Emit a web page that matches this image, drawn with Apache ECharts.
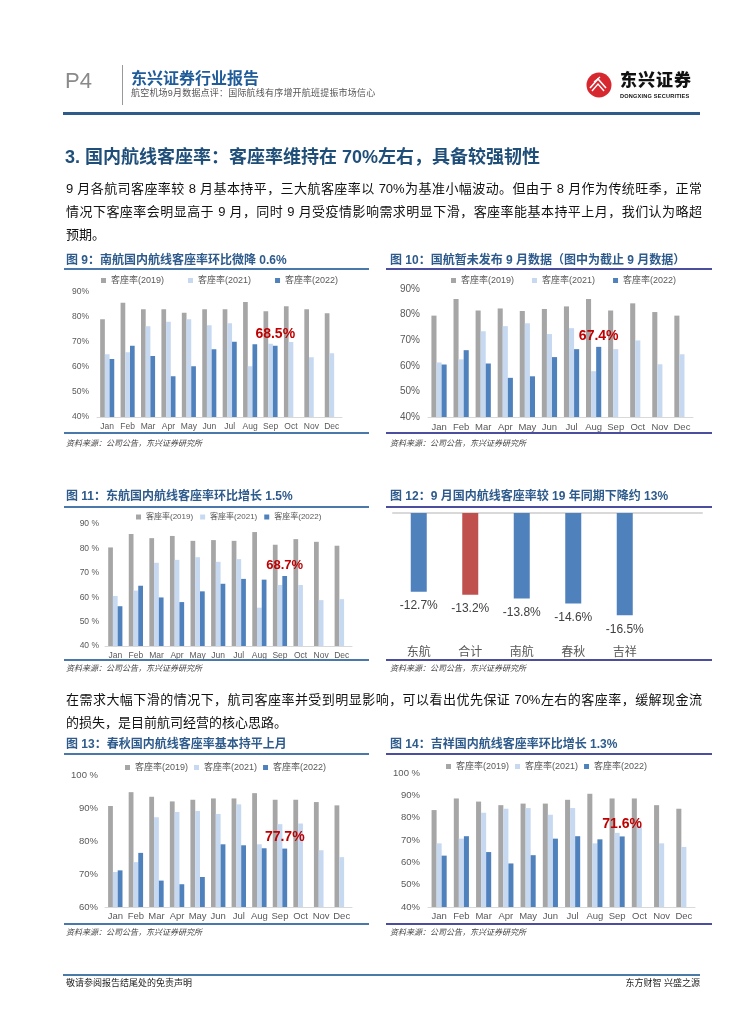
<!DOCTYPE html>
<html><head><meta charset="utf-8">
<script src="https://cdn.jsdelivr.net/npm/echarts@6/dist/echarts.min.js"></script>
<style>
html,body{margin:0;padding:0;background:#fff;}
body{width:755px;height:1024px;position:relative;overflow:hidden;font-family:'Liberation Sans','Noto Sans CJK SC',sans-serif;}
.t{position:absolute;white-space:nowrap;}
.ln{position:absolute;}
.para{position:absolute;left:66px;width:636px;font-size:13px;line-height:23px;color:#111;}
.para div{text-align:justify;text-align-last:justify;white-space:nowrap;}
.para div.last{text-align-last:left;}
.ft{position:absolute;font-size:12px;font-weight:bold;color:#2e5b8c;line-height:14px;white-space:nowrap;}
.src{position:absolute;font-size:8px;font-style:italic;color:#444;line-height:10px;white-space:nowrap;}
#chart{position:absolute;left:0;top:0;width:755px;height:1024px;}
</style></head>
<body>
<div id="chart"></div>

<!-- header -->
<div class="t" style="left:65px;top:69px;font-size:22px;line-height:24px;color:#8a8a8a;">P4</div>
<div class="ln" style="left:122px;top:65px;width:1px;height:40px;background:#999;"></div>
<div class="t" style="left:131px;top:70px;font-size:16px;line-height:17px;font-weight:bold;color:#1f5c99;">东兴证券行业报告</div>
<div class="t" style="left:131px;top:88px;font-size:9px;line-height:10px;color:#555;letter-spacing:0.2px;">航空机场9月数据点评：国际航线有序增开航班提振市场信心</div>
<svg style="position:absolute;left:586px;top:71px" width="26" height="28" viewBox="0 0 26 28">
<circle cx="13" cy="14" r="12.5" fill="#d7282f"/>
<path d="M4 17 L12 8 L20 17" stroke="#fff" stroke-width="1.6" fill="none"/>
<path d="M6 20 L12 13 L18 20" stroke="#fff" stroke-width="1.4" fill="none"/>
<path d="M8 11 L14 6" stroke="#fff" stroke-width="1.2"/>
</svg>
<div class="t" style="left:620px;top:71px;font-size:17px;line-height:19px;font-weight:900;color:#111;letter-spacing:1px;">东兴证券</div>
<div class="t" style="left:620px;top:93px;font-size:5.6px;line-height:7px;font-weight:bold;color:#111;letter-spacing:0.2px;">DONGXING SECURITIES</div>
<div class="ln" style="left:63px;top:112px;width:637px;height:3px;background:#2f5b8a;"></div>

<!-- heading -->
<div class="t" style="left:65px;top:146px;font-size:18px;line-height:22px;font-weight:bold;color:#1f4e79;">3. 国内航线客座率：客座率维持在 70%左右，具备较强韧性</div>

<div class="para" style="top:177px;">
<div>9 月各航司客座率较 8 月基本持平，三大航客座率以 70%为基准小幅波动。但由于 8 月作为传统旺季，正常</div>
<div>情况下客座率会明显高于 9 月，同时 9 月受疫情影响需求明显下滑，客座率能基本持平上月，我们认为略超</div>
<div class="last">预期。</div>
</div>

<!-- row 1 titles -->
<div class="ft" style="left:66px;top:253px;">图 9：南航国内航线客座率环比微降 0.6%</div>
<div class="ln" style="left:64px;top:268px;width:305px;height:2px;background:#4a78aa;"></div>
<div class="ft" style="left:390px;top:253px;">图 10：国航暂未发布 9 月数据（图中为截止 9 月数据）</div>
<div class="ln" style="left:386px;top:268px;width:326px;height:2px;background:#4b4d9e;"></div>
<div class="ln" style="left:64px;top:432px;width:305px;height:2px;background:#4a78aa;"></div>
<div class="ln" style="left:386px;top:432px;width:326px;height:2px;background:#4b4d9e;"></div>
<div class="src" style="left:66px;top:439px;">资料来源：公司公告，东兴证券研究所</div>
<div class="src" style="left:390px;top:439px;">资料来源：公司公告，东兴证券研究所</div>

<!-- row 2 titles -->
<div class="ft" style="left:66px;top:489px;">图 11：东航国内航线客座率环比增长 1.5%</div>
<div class="ln" style="left:64px;top:506px;width:305px;height:2px;background:#4a78aa;"></div>
<div class="ft" style="left:390px;top:489px;">图 12：9 月国内航线客座率较 19 年同期下降约 13%</div>
<div class="ln" style="left:386px;top:506px;width:326px;height:2px;background:#4b4d9e;"></div>
<div class="ln" style="left:64px;top:659px;width:305px;height:2px;background:#4a78aa;"></div>
<div class="ln" style="left:386px;top:659px;width:326px;height:2px;background:#4b4d9e;"></div>
<div class="src" style="left:66px;top:664px;">资料来源：公司公告，东兴证券研究所</div>
<div class="src" style="left:390px;top:664px;">资料来源：公司公告，东兴证券研究所</div>

<div class="para" style="top:688px;">
<div>在需求大幅下滑的情况下，航司客座率并受到明显影响，可以看出优先保证 70%左右的客座率，缓解现金流</div>
<div class="last">的损失，是目前航司经营的核心思路。</div>
</div>

<!-- row 3 titles -->
<div class="ft" style="left:66px;top:737px;">图 13：春秋国内航线客座率基本持平上月</div>
<div class="ln" style="left:64px;top:753px;width:305px;height:2px;background:#4a78aa;"></div>
<div class="ft" style="left:390px;top:737px;">图 14：吉祥国内航线客座率环比增长 1.3%</div>
<div class="ln" style="left:386px;top:753px;width:326px;height:2px;background:#4b4d9e;"></div>
<div class="ln" style="left:64px;top:923px;width:305px;height:2px;background:#4a78aa;"></div>
<div class="ln" style="left:386px;top:923px;width:326px;height:2px;background:#4b4d9e;"></div>
<div class="src" style="left:66px;top:928px;">资料来源：公司公告，东兴证券研究所</div>
<div class="src" style="left:390px;top:928px;">资料来源：公司公告，东兴证券研究所</div>

<!-- footer -->
<div class="ln" style="left:63px;top:974px;width:637px;height:2px;background:#4a7aa8;"></div>
<div class="t" style="left:66px;top:978px;font-size:9px;line-height:11px;color:#222;">敬请参阅报告结尾处的免责声明</div>
<div class="t" style="right:55px;top:978px;font-size:9px;line-height:11px;color:#222;">东方财智 兴盛之源</div>

<script>
// ---------- data ----------
const months = ['Jan','Feb','Mar','Apr','May','Jun','Jul','Aug','Sep','Oct','Nov','Dec'];
const seriesNames = ['客座率(2019)','客座率(2021)','客座率(2022)'];
// 图9 南航
const nh2019 = [79.1, 85.7, 83.1, 83.1, 81.7, 83.1, 83.1, 86.0, 82.3, 84.3, 83.1, 81.5];
const nh2021 = [65.1, 65.9, 76.3, 78.1, 79.1, 76.7, 77.5, 60.3, 69.3, 70.0, 63.9, 65.5];
const nh2022 = [63.2, 68.5, 64.4, 56.3, 60.3, 67.1, 70.1, 69.1, 68.5];
// 图10 国航
const gh2019 = [79.6, 86.1, 81.6, 82.4, 81.4, 82.2, 83.2, 86.1, 81.6, 84.4, 81.0, 79.6];
const gh2021 = [61.3, 62.5, 73.5, 75.5, 76.6, 72.4, 74.7, 57.9, 66.5, 69.9, 60.6, 64.5];
const gh2022 = [60.5, 66.1, 60.9, 55.3, 55.9, 63.4, 66.5, 67.4];
// 图11 东航
const dh2019 = [80.4, 85.9, 84.2, 85.1, 83.1, 83.4, 83.1, 86.7, 81.5, 83.8, 82.7, 81.1];
const dh2021 = [60.5, 62.7, 74.1, 75.3, 76.4, 74.5, 75.6, 55.7, 65.0, 65.0, 58.8, 59.2];
const dh2022 = [56.3, 64.7, 59.9, 58.0, 62.4, 65.5, 67.5, 67.2, 68.7];
// 图12 9月较19年同期
const cats12 = ['东航','合计','南航','春秋','吉祥'];
const vals12 = [-12.7, -13.2, -13.8, -14.6, -16.5];
// 图13 春秋
const cq2019 = [90.6, 94.8, 93.4, 92.0, 92.5, 92.9, 92.9, 94.5, 92.5, 92.5, 91.8, 90.8];
const cq2021 = [70.6, 73.6, 87.2, 88.8, 89.1, 88.2, 91.1, 79.0, 85.1, 85.3, 77.2, 75.1];
const cq2022 = [71.1, 76.4, 68.0, 66.9, 69.1, 79.0, 78.7, 77.8, 77.7];
// 图14 吉祥
const jx2019 = [83.4, 88.6, 87.2, 85.6, 86.3, 86.3, 88.0, 90.7, 88.6, 88.6, 85.6, 84.0];
const jx2021 = [68.5, 70.6, 82.2, 84.0, 84.3, 81.3, 84.3, 68.5, 73.2, 76.3, 68.5, 66.9];
const jx2022 = [63.0, 71.7, 64.6, 59.5, 63.2, 70.6, 71.7, 70.3, 71.6];

// ---------- style ----------
const FF = "'Liberation Sans','Noto Sans CJK SC',sans-serif";
const C19 = '#a6a6a6', C21 = '#c6d9f1', C22 = '#4f81bd';
const opt = {animation:false, grid:[], xAxis:[], yAxis:[], series:[], legend:[]};

function addBarChart(gi, d19, d21, d22, hi, c){
  opt.grid.push({left:c.l, top:c.t, width:c.w, height:c.h});
  opt.xAxis.push({type:'category', gridIndex:gi, data:months,
    axisLine:{lineStyle:{color:'#d9d9d9', width:1}}, axisTick:{show:false},
    axisLabel:{fontSize:c.xf, color:'#595959', margin:c.xm, fontFamily:FF, interval:0}});
  opt.yAxis.push({type:'value', gridIndex:gi, min:c.ymin, max:c.ymax, interval:10,
    splitLine:{show:false}, axisLine:{show:false}, axisTick:{show:false},
    axisLabel:{fontSize:c.yf, color:'#595959', margin:c.ym, fontFamily:FF,
      formatter:v => c.yfmt(v)}});
  const common = {type:'bar', xAxisIndex:gi, yAxisIndex:gi, barGap:'0%', barCategoryGap:c.gap, silent:true};
  opt.series.push(Object.assign({}, common, {name:seriesNames[0], data:d19, itemStyle:{color:C19}}));
  opt.series.push(Object.assign({}, common, {name:seriesNames[1], data:d21, itemStyle:{color:C21}}));
  opt.series.push(Object.assign({}, common, {name:seriesNames[2], itemStyle:{color:C22},
    data:d22.map((v,i)=>({value:v, label:{show:i===hi}})),
    label:{position:'top', distance:c.ld, color:'#c00000', fontWeight:'bold', fontSize:c.lf,
      fontFamily:FF, formatter:p=>p.value+'%'}}));
  opt.legend.push({data:seriesNames, left:c.lgl, top:c.lgt, itemWidth:5, itemHeight:5, itemGap:c.lgg,
    icon:'rect', selectedMode:false, padding:0,
    textStyle:{fontSize:c.lgf, color:'#595959', fontFamily:FF}});
}
const pct = v => v + '%';
const pctSp = v => v + ' %';
const pct100 = v => v === 100 ? '100 %' : v + '%';

addBarChart(0, nh2019, nh2021, nh2022, 8, {l:97,t:292,w:245,h:125, ymin:40,ymax:90, yfmt:pct, yf:8.5, ym:8,
  xf:8.5, xm:5, gap:'31%', ld:5, lf:14, lgl:101, lgt:276, lgg:24, lgf:9});
addBarChart(1, gh2019, gh2021, gh2022, 7, {l:428,t:289,w:265,h:128, ymin:40,ymax:90, yfmt:pct, yf:10, ym:8,
  xf:9.5, xm:6, gap:'31%', ld:4, lf:14, lgl:451, lgt:276, lgg:18, lgf:9});
addBarChart(2, dh2019, dh2021, dh2022, 8, {l:105,t:524,w:247,h:122, ymin:40,ymax:90, yfmt:pctSp, yf:8.5, ym:6,
  xf:8.5, xm:5, gap:'31%', ld:4, lf:13, lgl:136, lgt:513, lgg:7, lgf:8});

// 图12
opt.grid.push({left:393, top:513, width:309, height:124});
opt.xAxis.push({type:'category', gridIndex:3, data:cats12.concat(['']), position:'bottom',
  axisLine:{show:false, onZero:false}, axisTick:{show:false},
  axisLabel:{fontSize:12, color:'#595959', margin:10, fontFamily:FF, interval:0}});
opt.yAxis.push({type:'value', gridIndex:3, min:-20, max:0, show:false});
opt.series.push({type:'bar', xAxisIndex:3, yAxisIndex:3, barWidth:16, silent:true,
  data:vals12.map((v,i)=>({value:v, itemStyle:{color: i===1 ? '#c0504d' : '#4f81bd'}})),
  label:{show:true, position:'bottom', distance:8, fontSize:12, color:'#404040', fontFamily:FF,
    formatter:p=>p.value.toFixed(1)+'%'}});

addBarChart(4, cq2019, cq2021, cq2022, 8, {l:105,t:775,w:247,h:132, ymin:60,ymax:100, yfmt:pct100, yf:9.5, ym:7,
  xf:9.5, xm:5, gap:'30%', ld:4, lf:14, lgl:125, lgt:763, lgg:6, lgf:9});
addBarChart(5, jx2019, jx2021, jx2022, 8, {l:428,t:773,w:267,h:134, ymin:40,ymax:100, yfmt:pct100, yf:9.5, ym:8,
  xf:9.5, xm:5, gap:'32%', ld:5, lf:14, lgl:446, lgt:762, lgg:6, lgf:9});

// top zero line for 图12
opt.xAxis.push({type:'category', gridIndex:3, data:cats12.concat(['']), position:'top',
  axisLine:{show:true, onZero:false, lineStyle:{color:'#d9d9d9', width:2}}, axisTick:{show:false},
  axisLabel:{show:false}});

const chart = echarts.init(document.getElementById('chart'), null, {renderer:'canvas'});
chart.setOption(opt);
</script>
</body></html>
